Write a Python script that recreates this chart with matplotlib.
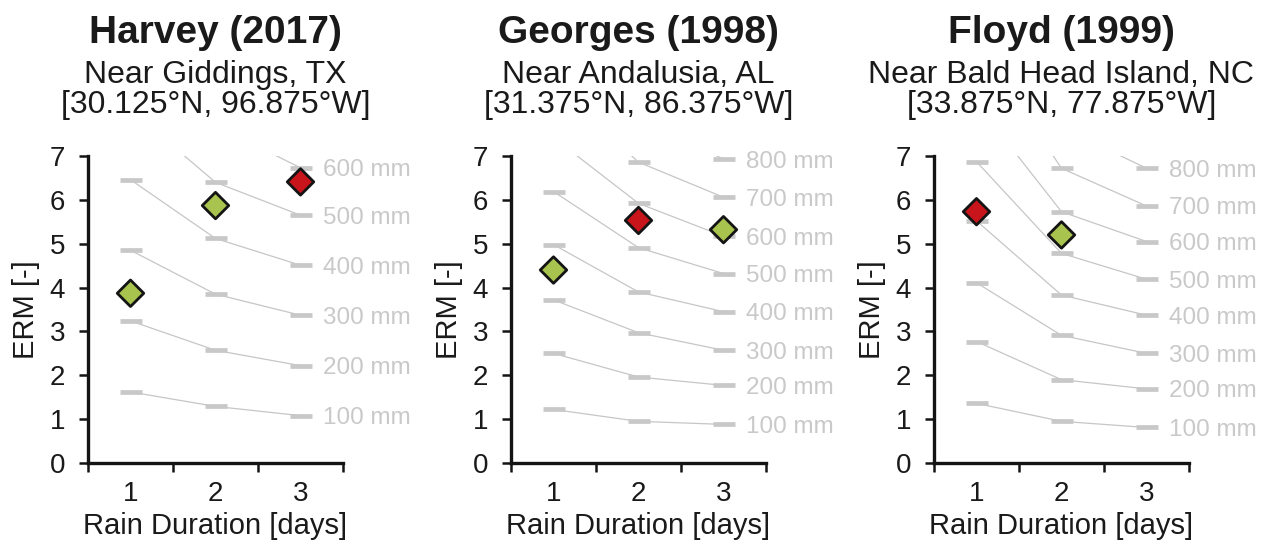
import matplotlib
matplotlib.use("Agg")
import matplotlib.pyplot as plt

plt.rcParams['font.family'] = ['Liberation Sans', 'DejaVu Sans']

# ---------------- data ----------------
days = [1, 2, 3]
day_ticks = [1, 2, 3]

titles = ["Harvey (2017)", "Georges (1998)", "Floyd (1999)"]
places = ["Near Giddings, TX", "Near Andalusia, AL", "Near Bald Head Island, NC"]
coords = ["[30.125°N, 96.875°W]", "[31.375°N, 86.375°W]", "[33.875°N, 77.875°W]"]

# contour rain depths (mm) and the ERM for each duration (1, 2, 3 days)
harvey_mm = [100, 200, 300, 400, 500, 600]
harvey_contours = [
    [1.62, 1.29, 1.08],
    [3.24, 2.57, 2.22],
    [4.85, 3.85, 3.37],
    [6.46, 5.12, 4.51],
    [8.05, 6.40, 5.65],
    [9.70, 7.70, 6.73],
]
harvey_days = [1, 2, 3]
harvey_erm = [3.87, 5.87, 6.41]
harvey_max = [False, False, True]

georges_mm = [100, 200, 300, 400, 500, 600, 700, 800]
georges_contours = [
    [1.22, 0.95, 0.88],
    [2.50, 1.96, 1.77],
    [3.72, 2.97, 2.57],
    [4.98, 3.90, 3.45],
    [6.19, 4.91, 4.32],
    [7.42, 5.92, 5.17],
    [8.65, 6.86, 6.06],
    [9.90, 7.85, 6.93],
]
georges_days = [1, 2, 3]
georges_erm = [4.40, 5.53, 5.32]
georges_max = [False, True, False]

floyd_mm = [100, 200, 300, 400, 500, 600, 700, 800]
floyd_contours = [
    [1.36, 0.95, 0.81],
    [2.77, 1.90, 1.69],
    [4.11, 2.91, 2.50],
    [5.52, 3.83, 3.37],
    [6.87, 4.78, 4.19],
    [8.20, 5.73, 5.05],
    [9.60, 6.72, 5.86],
    [10.95, 7.65, 6.72],
]
floyd_days = [1, 2]
floyd_erm = [5.73, 5.20]
floyd_max = [True, False]

# ---------------- style ----------------
GREEN = '#a8c34e'
RED = '#c8141b'
EDGE = '#141414'
LINE_GRAY = '#c6c6c6'
DASH_GRAY = '#c8c8c8'
LABEL_GRAY = '#c9c9c9'
TXT = '#1a1a1a'

fig = plt.figure(figsize=(12.71, 5.41), dpi=100)
W, H = 1271, 541
ax_lefts = [88, 511, 934]
ax_w = 255
ax_top, ax_bot = 156, 463

panels = [
    (harvey_mm, harvey_contours, harvey_days, harvey_erm, harvey_max),
    (georges_mm, georges_contours, georges_days, georges_erm, georges_max),
    (floyd_mm, floyd_contours, floyd_days, floyd_erm, floyd_max),
]

for i, (mm, contours, pdays, erm, ismax) in enumerate(panels):
    ax = fig.add_axes([ax_lefts[i] / W, (H - ax_bot) / H, ax_w / W, (ax_bot - ax_top) / H])
    for depth, vals in zip(mm, contours):
        ax.plot(days, vals, color=LINE_GRAY, lw=0.9, zorder=1)
        ax.plot(days, vals, ls='none', marker='_', ms=16, mew=3.4, color=DASH_GRAY, zorder=2)
        ax.annotate(f"{depth} mm", xy=(days[-1], vals[-1]), xytext=(16, 0),
                    textcoords='offset points', ha='left', va='center_baseline',
                    fontsize=17.5, color=LABEL_GRAY, annotation_clip=False)
    cols = [RED if m else GREEN for m in ismax]
    ax.scatter(pdays, erm, marker='D', s=13.5 ** 2, c=cols, edgecolors=EDGE,
               linewidths=2.0, zorder=5, clip_on=False)

    ax.set_xlim(0.5, 3.5)
    ax.set_ylim(0, 7)
    ax.set_xticks([0.5, 1.5, 2.5, 3.5])
    ax.set_xticklabels([])
    ax.set_xticks(day_ticks, minor=True)
    ax.set_xticklabels([str(d) for d in day_ticks], minor=True)
    ax.tick_params(axis='x', which='minor', length=0, pad=13, labelsize=20, labelcolor=TXT)
    ax.tick_params(axis='x', which='major', length=6.5, width=1.8, color=EDGE, direction='out')
    ax.set_yticks(range(0, 8))
    ax.tick_params(axis='y', length=6.5, width=1.8, color=EDGE, direction='out',
                   pad=10, labelsize=20, labelcolor=TXT)
    for s in ['top', 'right']:
        ax.spines[s].set_visible(False)
    for s in ['left', 'bottom']:
        ax.spines[s].set_linewidth(2.4)
        ax.spines[s].set_color(EDGE)
        ax.spines[s].set_capstyle('projecting')
    ax.set_ylabel("ERM [-]", fontsize=21, color=TXT)
    ax.yaxis.set_label_coords(-0.19, 0.5)
    ax.set_xlabel("Rain Duration [days]", fontsize=21, color=TXT)
    ax.xaxis.set_label_coords(0.5, -0.158)

    cx = (ax_lefts[i] + ax_w / 2) / W
    fig.text(cx, 1 - 43 / H, titles[i], ha='center', va='baseline', fontsize=28,
             fontweight='bold', color=TXT)
    fig.text(cx, 1 - 83 / H, places[i], ha='center', va='baseline', fontsize=23, color=TXT)
    fig.text(cx, 1 - 113 / H, coords[i], ha='center', va='baseline', fontsize=23, color=TXT)

fig.savefig("out.png", dpi=100)
